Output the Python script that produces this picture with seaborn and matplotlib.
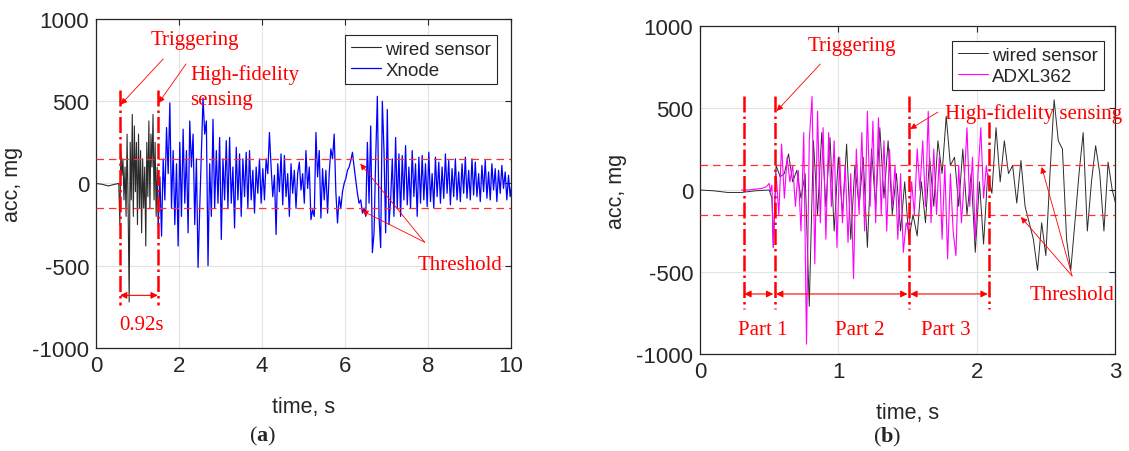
import numpy as np
import pandas as pd
import matplotlib
matplotlib.use('Agg')
import matplotlib.pyplot as plt
import seaborn as sns

sns.set_style('white')
plt.rcParams['font.family'] = ['Liberation Sans', 'DejaVu Sans']
plt.rcParams['axes.unicode_minus'] = False
plt.rcParams['mathtext.fontset'] = 'custom'
plt.rcParams['mathtext.bf'] = 'Liberation Serif:bold'

# ---------------- data (a) ----------------
a_wired_pre_t = [0.0, 0.15, 0.3, 0.45, 0.55]
a_wired_pre_v = [0, -5, -15, -5, 0]
a_wired_t0, a_wired_dt = 0.575, 0.025
a_wired_v = [-250, 200, 50, 150, -100, 100, -200, 300, -150, -720, 250, -100, 420, -200,
             350, -50, 250, -250, 300, -150, 200, -300, 150, -150, 100, -380, 250, -80,
             380, -150, 300, 100, 420, -100, 250, -200, 100, -250]

a_xnode_t0, a_xnode_dt = 1.50, 0.04
a_xnode_v = [
    -250, 40, -320, 150, -100, 340, 60, 490, -150, 200, -250, 120, -380, 250, -200, 330, -120, 200, -300, 380, 100, 300, -250, 150, -510,
    -150, 180, 520, 300, 380, -500, 120, -200, 390, -150, 200, -120, 280, -340, 150, -100, 260, -150, 280, -120, 100, -270, 220, -100, 180,
    -200, 150, -80, 190, -150, 200, -100, 80, -180, 100, -60, 150, -120, 90, -100, 150, 60, 310, 100, -80, 50, -310, 120, -50, 180,
    -130, 170, -80, 60, -200, 120, -60, 80, -150, 60, 130, -40, 60, -120, 200, -30, 100, -220, -160, -200, 310, 40, 200, -210, 90,
    -100, 80, -180, 60, 210, 150, 300, -50, -240, -80, -150, -50, 0, 30, 80, 100, 140, 190, 100, 20, -60, -120, -100, -180, -150,
    -200, 250, -120, 350, -420, -300, 150, 530, -200, -390, 500, 200, -300, 450, -250, -100, 150, -200, 280, -150, 180, -200, 170, -100, 230,
    -130, 100, -150, 200, -80, 120, -200, 160, -120, 170, -100, 120, -140, 190, -110, 60, -150, 160, -80, 130, -120, 100, -90, 180, -60,
    140, -130, 90, -80, 150, -100, 70, -110, 120, -60, 160, -90, 80, -100, 150, -70, 130, -80, 60, -110, 110, -50, 140, -90, 70,
    -100, 120, -40, 90, -110, 80, -60, 110, -30, 70, -100, 50, -80, 0]

# ---------------- data (b) ----------------
b_wired_pre_t = [0.0, 0.1, 0.2, 0.3, 0.4, 0.5, 0.52, 0.53, 0.54]
b_wired_pre_v = [0, -5, -15, -15, -5, 0, -50, -350, -100]
b_wired_t0, b_wired_dt = 0.55, 0.03
b_wired_v = [150, 80, 100, 220, 50, 120, -50, 100, -710, 300, -150, 350, -100, 320, -250, 200,
             -150, 280, -300, 150, -100, 200, -350, 250, -100, 380, -50, 300, -150, 100, -250, 50,
             -300, -150, -280, 50, -200, 200, -100, 300, 100, 450, 150, 200, -100, 250, -150, 100,
             -380, 50, -330, 100, -20, 380, 50, 300, 100, 150, -80, 180, -100, -200, -300, -490,
             -200, -400, 100, 550, 300, 250, -300, -490, -200, 100, 350, -250, 50, 270, 100, -250,
             170, 0, -100]

b_adxl_pre_t = [0.30, 0.35, 0.40, 0.45, 0.48, 0.50, 0.51, 0.52, 0.53, 0.54]
b_adxl_pre_v = [0, 0, 5, 10, 20, 40, -10, 30, -350, -100]
b_adxl_t0, b_adxl_dt = 0.55, 0.02
b_adxl_v = [100, -150, 280, -50, 200, 50, 150, -100, 120, -250, 350, -940, 300, 570, -450, 480,
            -200, 380, -300, 350, -100, 300, -350, 200, -200, 150, -320, 100, -540, 250, -150, 350,
            -250, 480, -100, 420, -200, 440, -150, 300, -250, 250, -100, 150, -300, 100, -380, -200,
            -250, 50, -150, 250, 0, 300, -100, 480, -200, 250, -150, 200, -300, 150, -420, 100,
            -250, -400, 150, -200, 50, 380, -100, 200, -300, 100, 380, -50, 150, 0]

threshold = 150


def series(pre_t, pre_v, t0, dt, vals):
    t = list(pre_t) + list(t0 + dt * np.arange(len(vals)))
    return pd.DataFrame({'t': t, 'acc': list(pre_v) + list(vals)})


df_a_wired = series(a_wired_pre_t, a_wired_pre_v, a_wired_t0, a_wired_dt, a_wired_v)
df_a_xnode = series([], [], a_xnode_t0, a_xnode_dt, a_xnode_v)
df_b_wired = series(b_wired_pre_t, b_wired_pre_v, b_wired_t0, b_wired_dt, b_wired_v)
df_b_adxl = series(b_adxl_pre_t, b_adxl_pre_v, b_adxl_t0, b_adxl_dt, b_adxl_v)

fig = plt.figure(figsize=(11.29, 4.52), dpi=100)
ax1 = fig.add_axes([0.0850, 0.2279, 0.3676, 0.7279])
ax2 = fig.add_axes([0.6200, 0.2146, 0.3676, 0.7257])

RED = '#ff0000'
serif = 'Liberation Serif'


def style_axes(ax, xmax, xticks):
    ax.set_xlim(0, xmax)
    ax.set_ylim(-1000, 1000)
    ax.set_xticks(xticks)
    ax.set_yticks([-1000, -500, 0, 500, 1000])
    ax.grid(True, color='#e3e3e3', lw=0.8)
    ax.tick_params(direction='in', top=True, right=True, labelsize=16, length=4,
                   color='#262626', pad=5)
    for s in ax.spines.values():
        s.set_color('#262626')
        s.set_linewidth(0.9)
    ax.set_xlabel('time, s', fontsize=15.5)
    ax.set_ylabel('acc, mg', fontsize=15.5)
    ax.xaxis.set_label_coords(0.5, -0.145)
    ax.yaxis.set_label_coords(-0.175, 0.5)
    for y in (threshold, -threshold):
        ax.axhline(y, color='#ff3030', ls=(0, (6, 4)), lw=0.9, zorder=5)


def vline(ax, x, y0, y1):
    ax.plot([x, x], [y0, y1], color=RED, ls='-.', lw=1.8, zorder=6)


def darrow(ax, x0, x1, y):
    ax.annotate('', xy=(x1, y), xytext=(x0, y),
                arrowprops=dict(arrowstyle='<|-|>', color=RED, lw=0.8,
                                mutation_scale=10, shrinkA=0, shrinkB=0), zorder=6)


def arrow(ax, xy, xytext):
    ax.annotate('', xy=xy, xytext=xytext,
                arrowprops=dict(arrowstyle='-|>', color=RED, lw=0.6,
                                mutation_scale=9, shrinkA=0, shrinkB=0), zorder=6)


def label(ax, x, y, s, ha='center'):
    ax.text(x, y, s, color=RED, fontsize=15, family=serif, ha=ha, va='center',
            zorder=7, clip_on=False)


# ---- panel (a)
sns.lineplot(data=df_a_wired, x='t', y='acc', ax=ax1, color='#2b2b2b', lw=0.8,
             estimator=None, sort=False, label='wired sensor')
sns.lineplot(data=df_a_xnode, x='t', y='acc', ax=ax1, color='#0000ff', lw=0.9,
             estimator=None, sort=False, label='Xnode')
style_axes(ax1, 10, [0, 2, 4, 6, 8, 10])
vline(ax1, 0.58, 570, -740)
vline(ax1, 1.49, 570, -740)
darrow(ax1, 0.58, 1.49, -680)
label(ax1, 1.09, -860, '0.92s')
label(ax1, 2.38, 873, 'Triggering')
arrow(ax1, (0.6, 480), (1.62, 757))
label(ax1, 2.27, 667, 'High-fidelity', ha='left')
label(ax1, 2.27, 509, 'sensing', ha='left')
arrow(ax1, (1.51, 490), (2.17, 727))
label(ax1, 8.77, -490, 'Threshold')
arrow(ax1, (6.37, 120), (7.92, -357))
arrow(ax1, (6.41, -165), (7.92, -357))

# ---- panel (b)
sns.lineplot(data=df_b_wired, x='t', y='acc', ax=ax2, color='#2b2b2b', lw=0.7,
             estimator=None, sort=False, label='wired sensor')
sns.lineplot(data=df_b_adxl, x='t', y='acc', ax=ax2, color='#ff00ff', lw=0.8,
             estimator=None, sort=False, label='ADXL362')
style_axes(ax2, 3, [0, 1, 2, 3])
vline(ax2, 0.32, 573, -725)
vline(ax2, 0.54, 573, -725)
vline(ax2, 1.51, 573, -725)
vline(ax2, 2.09, 415, -725)
darrow(ax2, 0.32, 0.53, -634)
darrow(ax2, 0.55, 1.50, -634)
darrow(ax2, 1.52, 2.08, -634)
label(ax2, 0.455, -848, 'Part 1')
label(ax2, 1.155, -848, 'Part 2')
label(ax2, 1.78, -848, 'Part 3')
label(ax2, 1.10, 884, 'Triggering')
arrow(ax2, (0.555, 482), (0.87, 768))
label(ax2, 1.77, 470, 'High-fidelity sensing', ha='left')
arrow(ax2, (1.52, 372), (1.72, 475))
label(ax2, 2.69, -640, 'Threshold')
arrow(ax2, (2.47, 140), (2.69, -524))
arrow(ax2, (2.32, -165), (2.69, -524))

for ax, anchor in ((ax1, (0.966, 0.951)), (ax2, (0.973, 0.954))):
    leg = ax.legend(loc='upper right', bbox_to_anchor=anchor, borderaxespad=0,
                    fontsize=13.5, handlelength=1.6, handletextpad=0.25,
                    fancybox=False, framealpha=1, edgecolor='#262626',
                    borderpad=0.3, labelspacing=0.2)
    leg.get_frame().set_linewidth(0.8)
    leg.set_zorder(10)

fig.text(263 / 1129, 0.035, r'($\mathbf{a}$)', ha='center', va='center',
         fontsize=16, family=serif)
fig.text(887 / 1129, 0.033, r'($\mathbf{b}$)', ha='center', va='center',
         fontsize=16, family=serif)

fig.savefig('out.png', dpi=100)
